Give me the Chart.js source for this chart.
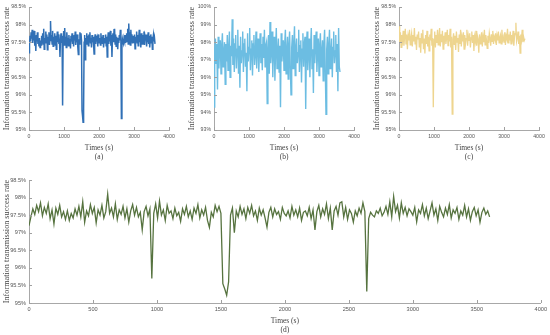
<!DOCTYPE html>
<html>
<head>
<meta charset="utf-8">
<script src="https://cdn.jsdelivr.net/npm/chart.js@4.4.1/dist/chart.umd.min.js"></script>
<style>
  body { margin: 0; background: #fff; }
  #wrap { position: relative; width: 550px; height: 335px; overflow: hidden; }
  canvas { position: absolute; }
</style>
</head>
<body>
<div id="wrap">
  <canvas id="chartA" width="178" height="162" style="left:0;top:0"></canvas>
  <canvas id="chartB" width="178" height="162" style="left:185px;top:0"></canvas>
  <canvas id="chartC" width="178" height="162" style="left:370px;top:0"></canvas>
  <canvas id="chartD" width="550" height="165" style="left:0;top:170px"></canvas>
</div>
<script>
// --- datos (tasa de éxito en %) ---

// serie (a) y (d): misma curva, muestra cada 15 s
const pasoAD = 15;
const tasaAD = [
  97.20, 97.45, 97.68, 97.52, 97.78, 97.60, 97.85, 97.48, 97.72, 97.55,
  97.82, 97.40, 97.65, 97.25, 97.70, 97.52, 97.78, 97.45, 97.60, 97.38,
  97.62, 97.35, 97.55, 97.42, 97.68, 97.50, 97.75, 97.45, 97.88, 97.30,
  97.62, 97.48, 97.80, 97.55, 97.72, 97.28, 97.65, 97.50, 97.78, 97.42,
  97.60, 98.10, 97.55, 97.70, 97.45, 97.82, 97.38, 97.65, 97.52, 97.75,
  97.42, 97.68, 97.30, 97.62, 97.80, 97.50, 97.72, 97.45, 97.58, 97.08,
  97.60, 97.75, 97.48, 97.68, 95.70, 97.55, 97.82, 97.42, 97.90, 97.50,
  97.65, 97.35, 97.78, 97.55, 97.62, 97.40, 97.70, 97.48, 97.58, 97.32,
  97.68, 97.52, 97.75, 97.45, 97.62, 97.38, 97.70, 97.55, 97.80, 97.42,
  97.65, 97.50, 97.72, 97.35, 97.15, 97.58, 97.45, 97.78, 97.60, 97.75,
  97.55, 95.55, 95.40, 95.22, 95.60, 97.50, 97.70, 97.00, 97.62, 97.45,
  97.75, 97.52, 97.68, 97.40, 97.72, 97.55, 97.78, 97.48, 97.62, 97.35,
  97.70, 97.50, 97.65, 97.42, 97.16, 97.58, 97.72, 97.45, 97.68, 97.52,
  97.60, 97.38, 97.72, 97.55, 97.48, 97.62, 97.42, 97.75, 97.50, 97.65,
  97.45, 97.70, 97.35, 97.58, 97.62, 97.48, 97.72, 97.40, 97.65, 97.08,
  97.60, 97.78, 97.45, 97.68, 97.52, 97.82, 97.40, 97.70, 97.08, 97.62,
  97.75, 97.50, 97.85, 97.88, 97.45, 97.72, 97.38, 97.65, 97.55, 97.30,
  97.62, 97.48, 97.70, 97.55, 97.85, 97.60, 95.33, 97.40, 97.58, 97.50,
  97.45, 97.62, 97.55, 97.70, 97.48, 97.58, 97.75, 97.52, 97.88, 97.45,
  98.03, 97.60, 97.78, 97.42, 97.85, 97.55, 97.72, 97.48, 97.68, 97.60,
  97.50, 97.72, 97.31, 97.65, 97.55, 97.80, 97.48, 97.70, 97.40, 97.62,
  97.85, 97.50, 97.68, 97.35, 97.75, 97.58, 97.45, 97.70, 97.52, 97.80,
  97.42, 97.65, 97.55, 97.72, 97.38, 97.62, 97.50, 97.78, 97.45, 97.68,
  97.35, 97.60, 97.72, 97.48, 97.65, 97.30, 97.58, 97.70, 97.52, 97.62,
  97.45
];

// serie (b), muestra cada 20 s
const pasoB = 20;
const tasaB = [
  94.30, 97.60, 98.20, 96.80, 97.90, 95.30, 98.30, 96.50, 97.70, 98.10,
  96.20, 97.80, 98.50, 96.60, 97.40, 98.00, 95.60, 97.90, 96.90, 98.40,
  96.40, 97.60, 98.60, 96.00, 97.80, 97.20, 99.30, 96.70, 98.20, 96.30,
  97.90, 98.40, 96.50, 97.60, 98.70, 96.20, 97.80, 95.40, 98.30, 96.80,
  97.50, 98.60, 96.30, 97.90, 98.20, 96.60, 97.40, 95.20, 98.50, 96.90,
  97.70, 98.80, 96.40, 97.60, 98.10, 96.10, 97.90, 98.40, 96.70, 97.30,
  98.60, 96.50, 97.80, 98.20, 96.30, 97.50, 98.50, 96.80, 97.90, 96.40,
  98.30, 97.10, 98.70, 96.60, 97.80, 98.00, 94.50, 97.60, 98.40, 96.20,
  99.15, 96.80, 97.50, 98.60, 96.00, 97.90, 98.30, 95.80, 97.60, 98.80,
  96.50, 97.40, 98.20, 96.30, 97.80, 94.30, 98.50, 96.90, 97.60, 98.10,
  96.40, 97.90, 98.70, 96.20, 97.50, 98.30, 95.90, 97.80, 98.60, 96.60,
  95.00, 97.70, 98.40, 96.50, 97.90, 98.90, 96.10, 97.60, 98.20, 96.80,
  97.40, 98.70, 96.30, 97.80, 98.10, 95.70, 97.60, 98.50, 96.60, 97.90,
  98.30, 94.20, 97.70, 98.60, 96.40, 97.50, 98.20, 96.00, 97.80, 98.80,
  96.50, 97.60, 95.10, 98.40, 96.80, 97.90, 98.60, 96.30, 97.50, 98.20,
  96.10, 97.80, 98.50, 96.60, 97.40, 98.10, 95.80, 97.90, 98.70, 96.40,
  93.90, 97.60, 98.30, 96.20, 97.80, 98.70, 96.50, 97.40, 98.20, 96.00,
  97.70, 98.60, 96.80, 97.50, 98.40, 96.30, 97.90, 95.20, 98.80, 96.60,
  96.30
];

// serie (c), muestra cada 20 s
const pasoC = 20;
const tasaC = [
  97.95, 97.50, 97.78, 97.35, 97.70, 97.55, 97.82, 97.40, 97.65, 97.88,
  97.45, 97.72, 97.30, 97.68, 97.55, 97.85, 97.42, 97.62, 97.75, 97.38,
  97.70, 97.52, 97.90, 97.45, 97.65, 97.28, 97.72, 97.58, 97.80, 97.35,
  97.62, 97.20, 97.75, 97.48, 97.85, 97.30, 97.60, 97.18, 97.70, 97.45,
  97.82, 97.38, 97.65, 97.25, 97.72, 97.55, 97.88, 97.40, 97.62, 95.65,
  97.58, 97.80, 97.35, 97.70, 97.48, 97.85, 97.42, 97.65, 97.90, 97.38,
  97.72, 97.50, 97.82, 97.30, 97.68, 97.55, 97.78, 97.45, 97.62, 97.85,
  97.40, 97.70, 97.52, 97.88, 97.35, 97.65, 95.45, 97.58, 97.75, 97.42,
  97.68, 97.28, 97.80, 97.50, 97.62, 97.22, 97.72, 97.45, 97.85, 97.38,
  97.65, 97.52, 97.78, 97.30, 97.70, 97.45, 97.60, 97.85, 97.40, 97.68,
  97.55, 97.75, 97.35, 97.62, 97.80, 97.48, 97.70, 97.25, 97.65, 97.52,
  97.82, 97.40, 97.68, 97.58, 97.20, 97.72, 97.45, 97.62, 97.78, 97.38,
  97.65, 97.50, 97.85, 97.42, 97.70, 97.55, 97.32, 97.68, 97.48, 97.75,
  97.60, 97.40, 97.72, 97.52, 97.82, 97.45, 97.65, 97.58, 97.75, 97.42,
  97.68, 97.55, 97.80, 97.48, 97.62, 97.70, 97.45, 97.85, 97.55, 97.65,
  97.50, 97.78, 97.42, 97.68, 97.60, 97.88, 97.48, 97.72, 97.55, 97.80,
  97.45, 97.70, 97.58, 97.82, 97.40, 97.65, 97.75, 98.05, 97.52, 97.62,
  97.80, 97.45, 97.68, 97.19, 97.72, 97.58, 97.85, 97.50, 97.65, 97.55,
  97.60
];

// etiquetas de ejes
const tituloY = 'Information transmission success rate';
const tituloX = 'Times (s)';
const letras = ['(a)', '(b)', '(c)', '(d)'];
const ticksYEstrecho = [95, 98.5, 0.5];   // min, max, paso
const ticksYAncho = [93, 100, 1];
const ticksX = [0, 4000];

// marcas de tick hacia dentro, como en MATLAB
const ticksInternos = {
    id: 'ticksInternos',
    afterDraw(chart) {
        const ctx = chart.ctx;
        const area = chart.chartArea;
        const sx = chart.scales.x, sy = chart.scales.y;
        ctx.save();
        ctx.strokeStyle = '#a0a0a0';
        ctx.lineWidth = 1;
        ctx.beginPath();
        sx.ticks.forEach(t => {
            const px = Math.round(sx.getPixelForValue(t.value)) + 0.5;
            ctx.moveTo(px, area.bottom);
            ctx.lineTo(px, area.bottom - 3);
        });
        sy.ticks.forEach(t => {
            const py = Math.round(sy.getPixelForValue(t.value)) + 0.5;
            ctx.moveTo(area.left, py);
            ctx.lineTo(area.left + 3, py);
        });
        ctx.stroke();
        ctx.restore();
    }
};

function crearPanel(id, valores, paso, color, letra, rangoY, pasoX, cfg) {
    const canvas = document.getElementById(id);
    const puntos = valores.map((v, i) => ({ x: i * paso, y: v }));

    new Chart(canvas, {
        type: 'line',
        data: {
            datasets: [{
                data: puntos,
                borderColor: color,
                borderWidth: cfg.ancho,
                pointRadius: 0,
                tension: 0,
                fill: false
            }]
        },
        options: {
            responsive: false,
            animation: false,
            layout: { padding: { top: cfg.arriba, right: cfg.derecha, left: 0, bottom: 0 } },
            plugins: { legend: { display: false }, tooltip: { enabled: false } },
            scales: {
                x: {
                    type: 'linear',
                    min: ticksX[0],
                    max: ticksX[1],
                    grid: { display: false, drawTicks: false },
                    border: { display: true, color: '#a8a8a8' },
                    ticks: {
                        stepSize: pasoX,
                        padding: 3,
                        color: '#555',
                        font: { family: 'Liberation Sans', size: cfg.fuenteTick },
                        maxRotation: 0,
                        callback: v => String(v)
                    },
                    title: {
                        display: true,
                        text: [tituloX, letra],
                        color: '#444',
                        font: { family: 'Liberation Serif', size: cfg.fuenteTitulo, lineHeight: 1.2 },
                        padding: { top: 3, bottom: 0 }
                    },
                    afterFit: s => { s.height = 32; }
                },
                y: {
                    min: rangoY[0],
                    max: rangoY[1],
                    grid: { display: false, drawTicks: false },
                    border: { display: true, color: '#a8a8a8' },
                    ticks: {
                        stepSize: rangoY[2],
                        padding: 3,
                        color: '#555',
                        font: { family: 'Liberation Sans', size: cfg.fuenteTick },
                        callback: v => v + '%'
                    },
                    title: {
                        display: true,
                        text: tituloY,
                        color: '#444',
                        font: { family: 'Liberation Serif', size: cfg.fuenteTituloY },
                        padding: { top: 2, bottom: 0 }
                    },
                    afterFit: s => { s.width = 29; }
                }
            }
        },
        plugins: [ticksInternos]
    });
}

document.addEventListener('DOMContentLoaded', function() {
    const chico = { arriba: 7, derecha: 9, fuenteTick: 5.2, fuenteTitulo: 7.5, fuenteTituloY: 8.2 };
    crearPanel('chartA', tasaAD, pasoAD, '#3070b6', letras[0], ticksYEstrecho, 1000, { ...chico, ancho: 1.5 });
    crearPanel('chartB', tasaB, pasoB, '#6cbde2', letras[1], ticksYAncho, 1000, { ...chico, ancho: 1.4 });
    crearPanel('chartC', tasaC, pasoC, '#eed58f', letras[2], ticksYEstrecho, 1000, { ...chico, ancho: 1.3 });
    crearPanel('chartD', tasaAD, pasoAD, '#56733f', letras[3], ticksYEstrecho, 500,
        { arriba: 10, derecha: 9, fuenteTick: 5.6, fuenteTitulo: 7.5, fuenteTituloY: 8.2, ancho: 1.3 });
});
</script>
</body>
</html>
